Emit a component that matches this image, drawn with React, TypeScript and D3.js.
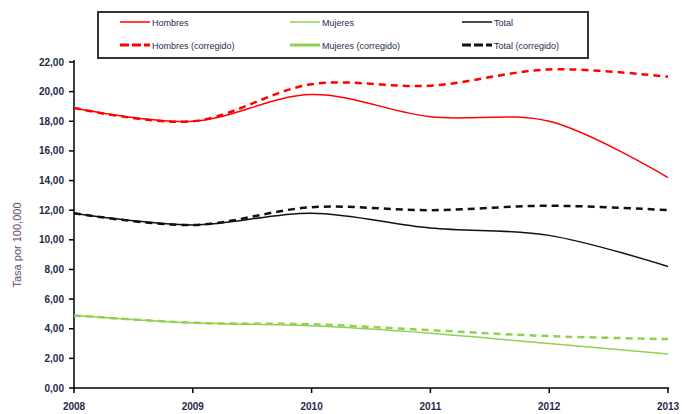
import React from "react";
import * as d3 from "d3";

const years = [2008, 2009, 2010, 2011, 2012, 2013];
const hombres = [18.9, 18.0, 19.8, 18.3, 18.0, 14.2];
const hombresCorr = [18.9, 18.0, 20.5, 20.4, 21.5, 21.0];
const mujeres = [4.9, 4.4, 4.2, 3.7, 3.0, 2.3];
const mujeresCorr = [4.9, 4.4, 4.3, 3.9, 3.5, 3.3];
const total = [11.8, 11.0, 11.8, 10.8, 10.3, 8.2];
const totalCorr = [11.8, 11.0, 12.2, 12.0, 12.3, 12.0];
const yTicks = [0, 2, 4, 6, 8, 10, 12, 14, 16, 18, 20, 22];

const RED = "#ff0000";
const GREEN = "#92d050";
const BLACK = "#111111";

const series = [
  { name: "Hombres", values: hombres, color: RED, width: 1.5, dash: "" },
  { name: "Mujeres", values: mujeres, color: GREEN, width: 1.5, dash: "" },
  { name: "Total", values: total, color: BLACK, width: 1.5, dash: "" },
  { name: "Hombres (corregido)", values: hombresCorr, color: RED, width: 2.5, dash: "7,5" },
  { name: "Mujeres (corregido)", values: mujeresCorr, color: GREEN, width: 2.5, dash: "7,5" },
  { name: "Total (corregido)", values: totalCorr, color: BLACK, width: 2.5, dash: "7,5" },
];

export default function App() {
  const W = 682, H = 414;
  const x = d3.scaleLinear().domain([2008, 2013]).range([74, 668]);
  const y = d3.scaleLinear().domain([0, 22]).range([388, 62]);
  const line = d3
    .line<number>()
    .x((_, i) => x(years[i]))
    .y((d) => y(d))
    .curve(d3.curveCatmullRom.alpha(0.5));

  const legendCols = [120, 290, 462];
  const legendRows = [22, 45];
  const font = "'Liberation Sans', Arial, sans-serif";

  return (
    <svg width={W} height={H} style={{ position: "absolute", left: 0, top: 0 }} fontFamily={font}>
      <rect width={W} height={H} fill="#fff" />
      {/* legend */}
      <rect x={98} y={12} width={490} height={46} fill="#fff" stroke="#333" strokeWidth={2} />
      {series.map((s, i) => {
        const cx = legendCols[i % 3];
        const cy = legendRows[Math.floor(i / 3)];
        return (
          <g key={s.name}>
            <line x1={cx} x2={cx + 30} y1={cy} y2={cy} stroke={s.color} strokeWidth={s.width + (s.dash ? 0.5 : 0)} strokeDasharray={s.dash ? (s.color === GREEN ? "" : "9,3") : ""} />
            <text x={cx + 32} y={cy + 3.5} fontSize={9} fill="#2a2a4a">{s.name}</text>
          </g>
        );
      })}
      {/* axes */}
      <line x1={74} x2={74} y1={60} y2={389} stroke="#000" strokeWidth={1.5} />
      <line x1={73} x2={669} y1={388} y2={388} stroke="#000" strokeWidth={1.5} />
      {yTicks.map((t) => (
        <g key={t}>
          <line x1={69} x2={74} y1={y(t)} y2={y(t)} stroke="#000" strokeWidth={1.5} />
          <text x={64} y={y(t) + 3.5} fontSize={10} fontWeight="bold" textAnchor="end" fill="#1f2a4a">
            {d3.format(".2f")(t).replace(".", ",")}
          </text>
        </g>
      ))}
      {years.map((yr) => (
        <g key={yr}>
          <line x1={x(yr)} x2={x(yr)} y1={388} y2={393} stroke="#000" strokeWidth={1.5} />
          <text x={x(yr)} y={410} fontSize={10} fontWeight="bold" textAnchor="middle" fill="#1f2a4a">{yr}</text>
        </g>
      ))}
      <text transform={`translate(21,${(62 + 388) / 2 + 20}) rotate(-90)`} fontSize={11} textAnchor="middle" fill="#6a4a6e">
        Tasa por 100,000
      </text>
      {/* lines */}
      {series.map((s) => (
        <path key={s.name} d={line(s.values) || ""} fill="none" stroke={s.color} strokeWidth={s.width} strokeDasharray={s.dash} />
      ))}
    </svg>
  );
}
